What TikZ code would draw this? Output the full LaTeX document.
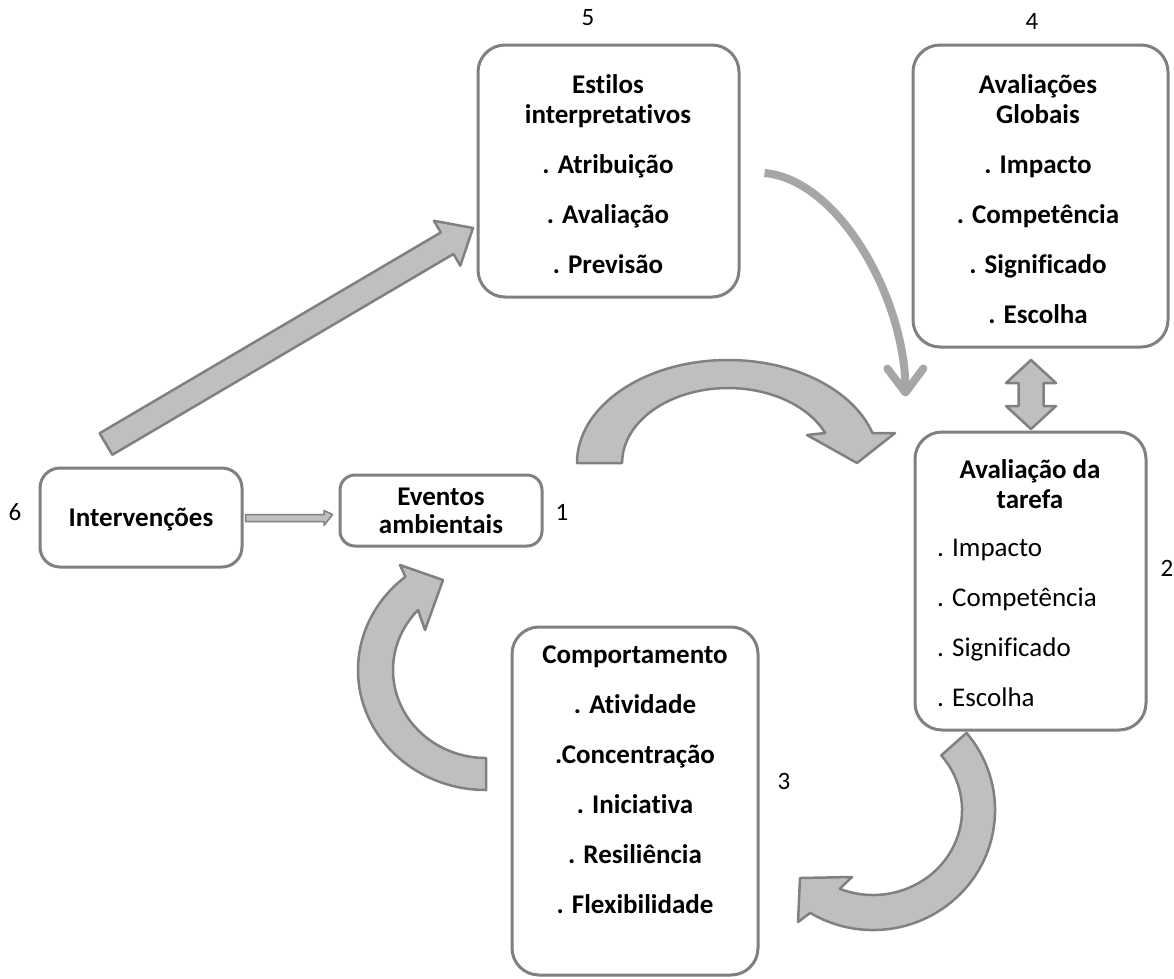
\documentclass[tikz,border=0pt]{standalone}
\usepackage{fontspec}
\setmainfont{Carlito}[Ligatures=NoCommon]
\usetikzlibrary{calc,arrows.meta}
\definecolor{boxgray}{HTML}{808080}
\definecolor{arrowfill}{HTML}{BFBFBF}
\definecolor{arrowline}{HTML}{808080}
\definecolor{thingray}{HTML}{A6A6A6}
% fixed height for the first line of each text block
\newcommand{\lnTop}{\rule{0pt}{22pt}}
\begin{document}
\begin{tikzpicture}[x=1pt,y=-1pt,
  box/.style={draw=boxgray, line width=3pt, rounded corners=27pt, fill=white, inner sep=0pt},
  blockarrow/.style={fill=arrowfill, draw=arrowline, line width=2.5pt, line join=round},
  boldtxt/.style={inner sep=0pt, align=center, font=\bfseries\fontsize{27}{30}\selectfont},
  plaintxt/.style={inner sep=0pt, align=left, font=\fontsize{27}{30}\selectfont},
  numtxt/.style={inner sep=0pt, font=\fontsize{25}{28}\selectfont},
  thinarrow/.style={draw=thingray, line width=8pt,
    -{Straight Barb[length=24pt, width=36pt, line width=8pt, round]}}]
\useasboundingbox (0,0) rectangle (1174,978);

% ---------- boxes ----------
\node[box, minimum width=261pt, minimum height=252pt] (est) at (608.5,171) {};
\node[box, minimum width=255pt, minimum height=302pt] (glob) at (1040.5,196) {};
\node[box, minimum width=231pt, minimum height=298pt] (tar) at (1030.5,581) {};
\node[box, minimum width=246pt, minimum height=348pt] (comp) at (635,801) {};
\node[box, rounded corners=20pt, minimum width=202pt, minimum height=99pt] (int) at (141,517.5) {};
\node[box, rounded corners=15pt, minimum width=202pt, minimum height=71pt] (eve) at (441,510.5) {};

% ---------- texts ----------
\node[boldtxt, anchor=north] (estT) at (608,71)
  {\lnTop Estilos\\interpretativos\\[20pt]. Atribuição\\[20pt]. Avaliação\\[20pt]. Previsão};
\node[boldtxt, anchor=north] (globT) at (1038,71)
  {\lnTop Avaliações\\Globais\\[20pt]. Impacto\\[20pt]. Competência\\[20pt]. Significado\\[20pt]. Escolha};
\node[boldtxt, anchor=north] (tarT) at (1030,456)
  {\lnTop Avaliação da\\tarefa};
\node[plaintxt, anchor=north west] (tarL) at (937,534)
  {\lnTop . Impacto\\[20pt]. Competência\\[20pt]. Significado\\[20pt]. Escolha};
\node[boldtxt, anchor=north] (compT) at (635,641)
  {\lnTop Comportamento\\[20pt]. Atividade\\[20pt].Concentração\\[20pt]. Iniciativa\\[20pt]. Resiliência\\[20pt]. Flexibilidade};
\node[boldtxt, anchor=north] (intT) at (141,504) {\lnTop Intervenções};
\node[boldtxt, anchor=north] (eveT) at (441,483) {\lnTop Eventos\\[-2pt]ambientais};

% ---------- numbers ----------
\node[numtxt] (n5) at (588,18) {5};
\node[numtxt] (n4) at (1032,21) {4};
\node[numtxt] (n6) at (15,512) {6};
\node[numtxt] (n1) at (562,512) {1};
\node[numtxt] (n2) at (1167,568) {2};
\node[numtxt] (n3) at (784,781) {3};

% ---------- straight block arrow: Intervencoes -> Estilos ----------
\coordinate (dT) at (106,444);
\coordinate (dP) at (473,228);
\coordinate (dB) at ($(dP)!30pt!(dT)$);
\draw[blockarrow] ($(dT)!12.5pt!90:(dP)$) -- ($(dB)!12.5pt!-90:(dT)$)
  -- ($(dB)!26pt!-90:(dT)$) -- (dP) -- ($(dB)!26pt!90:(dT)$)
  -- ($(dB)!12.5pt!90:(dT)$) -- ($(dT)!12.5pt!-90:(dP)$) -- cycle;

% ---------- small arrow: Intervencoes -> Eventos ----------
\coordinate (sA) at ($(int.east)+(2,-3)$);
\coordinate (sB) at ($(eve.west)+(-6,0)$);
\draw[fill=arrowfill, draw=arrowline, line width=1.5pt, line join=round]
  (sA) -- (sA -| 324,0) -- ($(sA -| 324,0)+(0,-4)$) -- (sB |- 0,514.5)
  -- ($(sA -| 324,0)+(0,11)$) -- ($(sA -| 324,0)+(0,7)$) -- ($(sA)+(0,7)$) -- cycle;

% ---------- double arrow: Avaliacoes Globais <-> Avaliacao da tarefa ----------
\draw[blockarrow] (1031,360) -- (1056,383) -- (1043.5,383) -- (1043.5,406) -- (1056,406)
  -- (1031,429) -- (1006,406) -- (1018.5,406) -- (1018.5,383) -- (1006,383) -- cycle;

% ---------- curved arrow: Eventos -> Avaliacao da tarefa ----------
\draw[blockarrow] (577,463) arc[start angle=180, end angle=343.1, x radius=151, y radius=103]
  -- (895,433) -- (857,463) -- (807,435)
  -- (825.2,433) arc[start angle=336.4, end angle=180, x radius=106, y radius=75] -- cycle;

% ---------- curved arrow: Avaliacao da tarefa -> Comportamento ----------
\draw[blockarrow] (941.2,755.4) -- (966.5,732.9)
  arc[start angle=-40, end angle=121, x radius=122, y radius=120]
  -- (798,922) -- (800,878) -- (852,877)
  -- (839.7,888.8) arc[start angle=112, end angle=-40, x radius=89, y radius=85] -- cycle;

% ---------- curved arrow: Comportamento -> Eventos ----------
\draw[blockarrow] (486,790) arc[start angle=90, end angle=231, x radius=128, y radius=120]
  -- (400,565) -- (443,580) -- (425,630)
  -- (418,610) arc[start angle=223, end angle=90, x radius=93, y radius=88] -- cycle;

% ---------- thin curved arrow: Estilos -> Avaliacao da tarefa ----------
\coordinate (thinS) at ($(est.east)+(24,2)$);
\coordinate (thinE) at ($(tar.north west)+(-8,-34)$);
\draw[thinarrow] (thinS) .. controls (840,180) and (905,300) .. (thinE);
\end{tikzpicture}
\end{document}
